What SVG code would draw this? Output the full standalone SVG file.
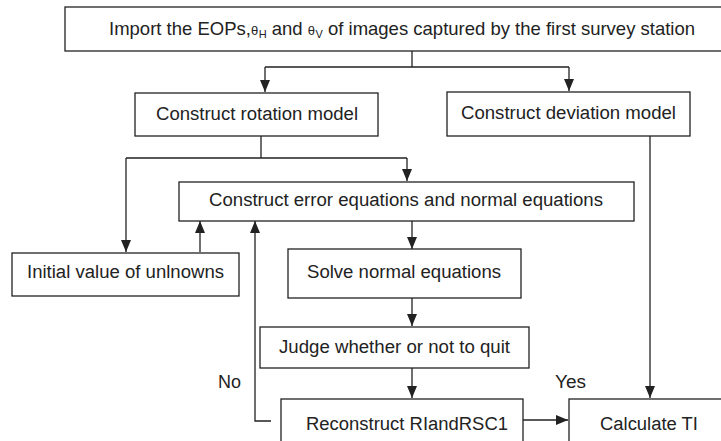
<svg xmlns="http://www.w3.org/2000/svg" width="721" height="441" viewBox="0 0 721 441">
<defs>
<style>
.box{fill:#fff;stroke:#222;stroke-width:1.3}
.t{font-family:"Liberation Sans",Arial,sans-serif;font-size:18px;fill:#222}
.big{font-size:18.5px}
.c{fill:none;stroke:#222;stroke-width:1.3}
.s{font-size:13px}
.sub{font-size:11px}
</style>
<marker id="ah" markerUnits="userSpaceOnUse" markerWidth="12" markerHeight="10" refX="12" refY="5" orient="auto">
<path d="M0,0 L12,5 L0,10 z" fill="#222"/>
</marker>
</defs>
<rect width="721" height="441" fill="#fff"/>
<g id="connectors">
<path class="c" d="M412,51 V67 M265,67 H569"/>
<path class="c" d="M265,67 V92" marker-end="url(#ah)"/>
<path class="c" d="M569,67 V91" marker-end="url(#ah)"/>
<path class="c" d="M261,136 V158 M126,158 H407"/>
<path class="c" d="M126,158 V252" marker-end="url(#ah)"/>
<path class="c" d="M407,158 V181" marker-end="url(#ah)"/>
<path class="c" d="M200,252 V221" marker-end="url(#ah)"/>
<path class="c" d="M412,221 V249" marker-end="url(#ah)"/>
<path class="c" d="M412,298 V326" marker-end="url(#ah)"/>
<path class="c" d="M412,368 V398" marker-end="url(#ah)"/>
<path class="c" d="M271,421 H255 V221" marker-end="url(#ah)"/>
<path class="c" d="M523,420 H568" marker-end="url(#ah)"/>
<path class="c" d="M650,136 V398" marker-end="url(#ah)"/>
<text class="t" x="555" y="388" textLength="31" lengthAdjust="spacingAndGlyphs">Yes</text>
<text class="t" x="218" y="388" textLength="23" lengthAdjust="spacingAndGlyphs">No</text>
</g>
<g id="n-import">
<rect class="box" x="65" y="7" width="670" height="44"/>
<text class="t big" x="109" y="35">Import the EOPs,<tspan class="s">θ</tspan><tspan class="sub" dx="0.5" dy="3">H</tspan><tspan dy="-3"> and </tspan><tspan class="s">θ</tspan><tspan class="sub" dx="0.5" dy="3">V</tspan><tspan dy="-3"> of images captured by the first survey station</tspan></text>
</g>
<g id="n-rotation">
<rect class="box" x="135" y="93" width="243" height="43"/>
<text class="t" x="156" y="120" textLength="202" lengthAdjust="spacingAndGlyphs">Construct rotation model</text>
</g>
<g id="n-deviation">
<rect class="box" x="447" y="92" width="243" height="44"/>
<text class="t" x="461" y="119" textLength="215" lengthAdjust="spacingAndGlyphs">Construct deviation model</text>
</g>
<g id="n-error">
<rect class="box" x="179" y="182" width="455" height="39"/>
<text class="t" x="209" y="206" textLength="394" lengthAdjust="spacingAndGlyphs">Construct error equations and normal equations</text>
</g>
<g id="n-initial">
<rect class="box" x="12" y="253" width="227" height="43"/>
<text class="t" x="27" y="278" textLength="197" lengthAdjust="spacingAndGlyphs">Initial value of unlnowns</text>
</g>
<g id="n-solve">
<rect class="box" x="288" y="249" width="233" height="49"/>
<text class="t" x="307" y="278" textLength="194" lengthAdjust="spacingAndGlyphs">Solve normal equations</text>
</g>
<g id="n-judge">
<rect class="box" x="260" y="327" width="269" height="41"/>
<text class="t" x="279" y="353" textLength="231" lengthAdjust="spacingAndGlyphs">Judge whether or not to quit</text>
</g>
<g id="n-reconstruct">
<rect class="box" x="281" y="399" width="242" height="50"/>
<text class="t" x="306" y="430" textLength="202" lengthAdjust="spacingAndGlyphs">Reconstruct RIandRSC1</text>
</g>
<g id="n-calculate">
<rect class="box" x="569" y="399" width="170" height="50"/>
<text class="t" x="600" y="430" textLength="98" lengthAdjust="spacingAndGlyphs">Calculate TI</text>
</g>
</svg>
